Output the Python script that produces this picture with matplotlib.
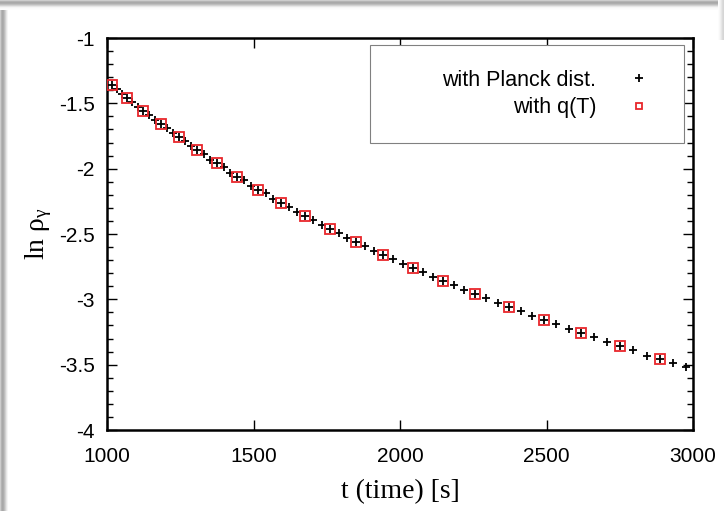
import matplotlib
matplotlib.use("Agg")
import matplotlib.pyplot as plt
from matplotlib.patches import Rectangle
from matplotlib.ticker import MultipleLocator

plt.rcParams["font.family"] = ["Liberation Sans", "DejaVu Sans"]
plt.rcParams["mathtext.fontset"] = "custom"
plt.rcParams["mathtext.rm"] = "Liberation Serif"
plt.rcParams["mathtext.it"] = "Liberation Serif:italic"

# with Planck distribution (black crosses)
planck_t = [1017, 1034, 1051, 1068, 1086, 1105, 1123, 1143, 1164, 1184, 1205, 1225,
            1246, 1266, 1287, 1307, 1330, 1352, 1375, 1398, 1421, 1444, 1468, 1492,
            1516, 1542, 1568, 1594, 1621, 1649, 1676, 1704, 1733, 1761, 1791, 1820,
            1850, 1881, 1911, 1942, 1976, 2010, 2044, 2078, 2113, 2147, 2183, 2220,
            2256, 2295, 2333, 2372, 2412, 2451, 2491, 2533, 2576, 2618, 2662, 2707,
            2751, 2796, 2842, 2887, 2932, 2976]
planck_ln = [-1.36, -1.39, -1.43, -1.46, -1.49, -1.53, -1.56, -1.59, -1.63, -1.66, -1.69, -1.73,
             -1.76, -1.79, -1.83, -1.86, -1.89, -1.93, -1.96, -1.99, -2.03, -2.06, -2.09, -2.13,
             -2.16, -2.19, -2.23, -2.26, -2.29, -2.33, -2.36, -2.39, -2.43, -2.46, -2.49, -2.53,
             -2.56, -2.59, -2.63, -2.66, -2.69, -2.73, -2.76, -2.79, -2.83, -2.86, -2.89, -2.93,
             -2.96, -2.99, -3.03, -3.06, -3.09, -3.13, -3.16, -3.19, -3.23, -3.26, -3.29, -3.33,
             -3.36, -3.39, -3.43, -3.46, -3.49, -3.52]

# with q(T) (red open squares)
qt_t = [1017, 1068, 1123, 1184, 1246, 1307, 1375, 1444, 1516, 1594, 1676,
        1761, 1850, 1942, 2044, 2147, 2256, 2372, 2491, 2618, 2751, 2887]
qt_ln = [-1.36, -1.46, -1.56, -1.66, -1.76, -1.86, -1.96, -2.06, -2.16, -2.26, -2.36,
         -2.46, -2.56, -2.66, -2.76, -2.86, -2.96, -3.06, -3.16, -3.26, -3.36, -3.46]

x_ticks = [1000, 1500, 2000, 2500, 3000]
y_ticks = [-4, -3.5, -3, -2.5, -2, -1.5, -1]
y_ticklabels = ["-4", "-3.5", "-3", "-2.5", "-2", "-1.5", "-1"]

fig = plt.figure(figsize=(7.24, 5.11), dpi=100)
ax = fig.add_axes([107 / 724, 1 - 430 / 511, 586 / 724, 392 / 511])

# screenshot-style shadow on the left / top / right edges
grays = [0.80, 0.70, 0.66, 0.68, 0.74, 0.82, 0.90, 0.96]
for i, g in enumerate(grays):
    fig.add_artist(Rectangle((i / 724, 0), 1 / 724, 1 - 10 / 511, transform=fig.transFigure,
                             facecolor=str(g), edgecolor="none", zorder=-5))
for i, g in enumerate(grays + [0.98, 0.99]):
    fig.add_artist(Rectangle((0, 1 - (i + 1) / 511), 1, 1 / 511, transform=fig.transFigure,
                             facecolor=str(g), edgecolor="none", zorder=-5))
for i, g in enumerate([0.99, 0.97, 0.94, 0.90, 0.86, 0.84]):
    fig.add_artist(Rectangle(((718 + i) / 724, 1 - 40 / 511), 1 / 724, 40 / 511,
                             transform=fig.transFigure, facecolor=str(g), edgecolor="none", zorder=-5))

ax.plot(planck_t, planck_ln, linestyle="none", marker="+", markersize=5.5,
        markeredgewidth=1.3, color="black", label="with Planck dist.", zorder=3)
ax.plot(qt_t, qt_ln, linestyle="none", marker="s", markersize=6.5, markeredgewidth=1.3,
        markerfacecolor="none", markeredgecolor="#e8262b", label="with q(T)", zorder=4)

ax.set_xlim(1000, 3000)
ax.set_ylim(-4, -1)
ax.set_xticks(x_ticks)
ax.set_xticklabels([str(v) for v in x_ticks])
ax.set_yticks(y_ticks)
ax.set_yticklabels(y_ticklabels)
ax.yaxis.set_minor_locator(MultipleLocator(0.1))
ax.tick_params(which="both", direction="in", top=True, right=True, width=1.0)
ax.tick_params(which="major", length=7, labelsize=15)
ax.tick_params(axis="x", which="major", pad=12)
ax.tick_params(axis="y", which="major", pad=9)
ax.tick_params(which="minor", length=4)
for s in ax.spines.values():
    s.set_linewidth(1.8)

ax.set_xlabel("t (time) [s]", fontfamily="Liberation Serif", fontsize=20, labelpad=10)
ax.set_ylabel(r"ln $\mathrm{ρ}_{\mathrm{γ}}$", fontfamily="Liberation Serif", fontsize=20, labelpad=3)

# legend frame drawn separately (gnuplot-style wide box)
ax.add_patch(Rectangle((263 / 586, 1 - 105 / 392), 314 / 586, 98 / 392, transform=ax.transAxes,
                       facecolor="white", edgecolor="#808080", linewidth=0.8, zorder=5))
leg = ax.legend(loc="upper right", bbox_to_anchor=(1 - 43 / 586, 1 - 32 / 392),
                frameon=False, markerfirst=False, fontsize=15.5, handlelength=1.0,
                handletextpad=1.5, labelspacing=0.3, borderpad=0, borderaxespad=0)
leg.legend_handles[1].set_markersize(5)
leg.set_zorder(6)

fig.savefig("out.png", dpi=100)
